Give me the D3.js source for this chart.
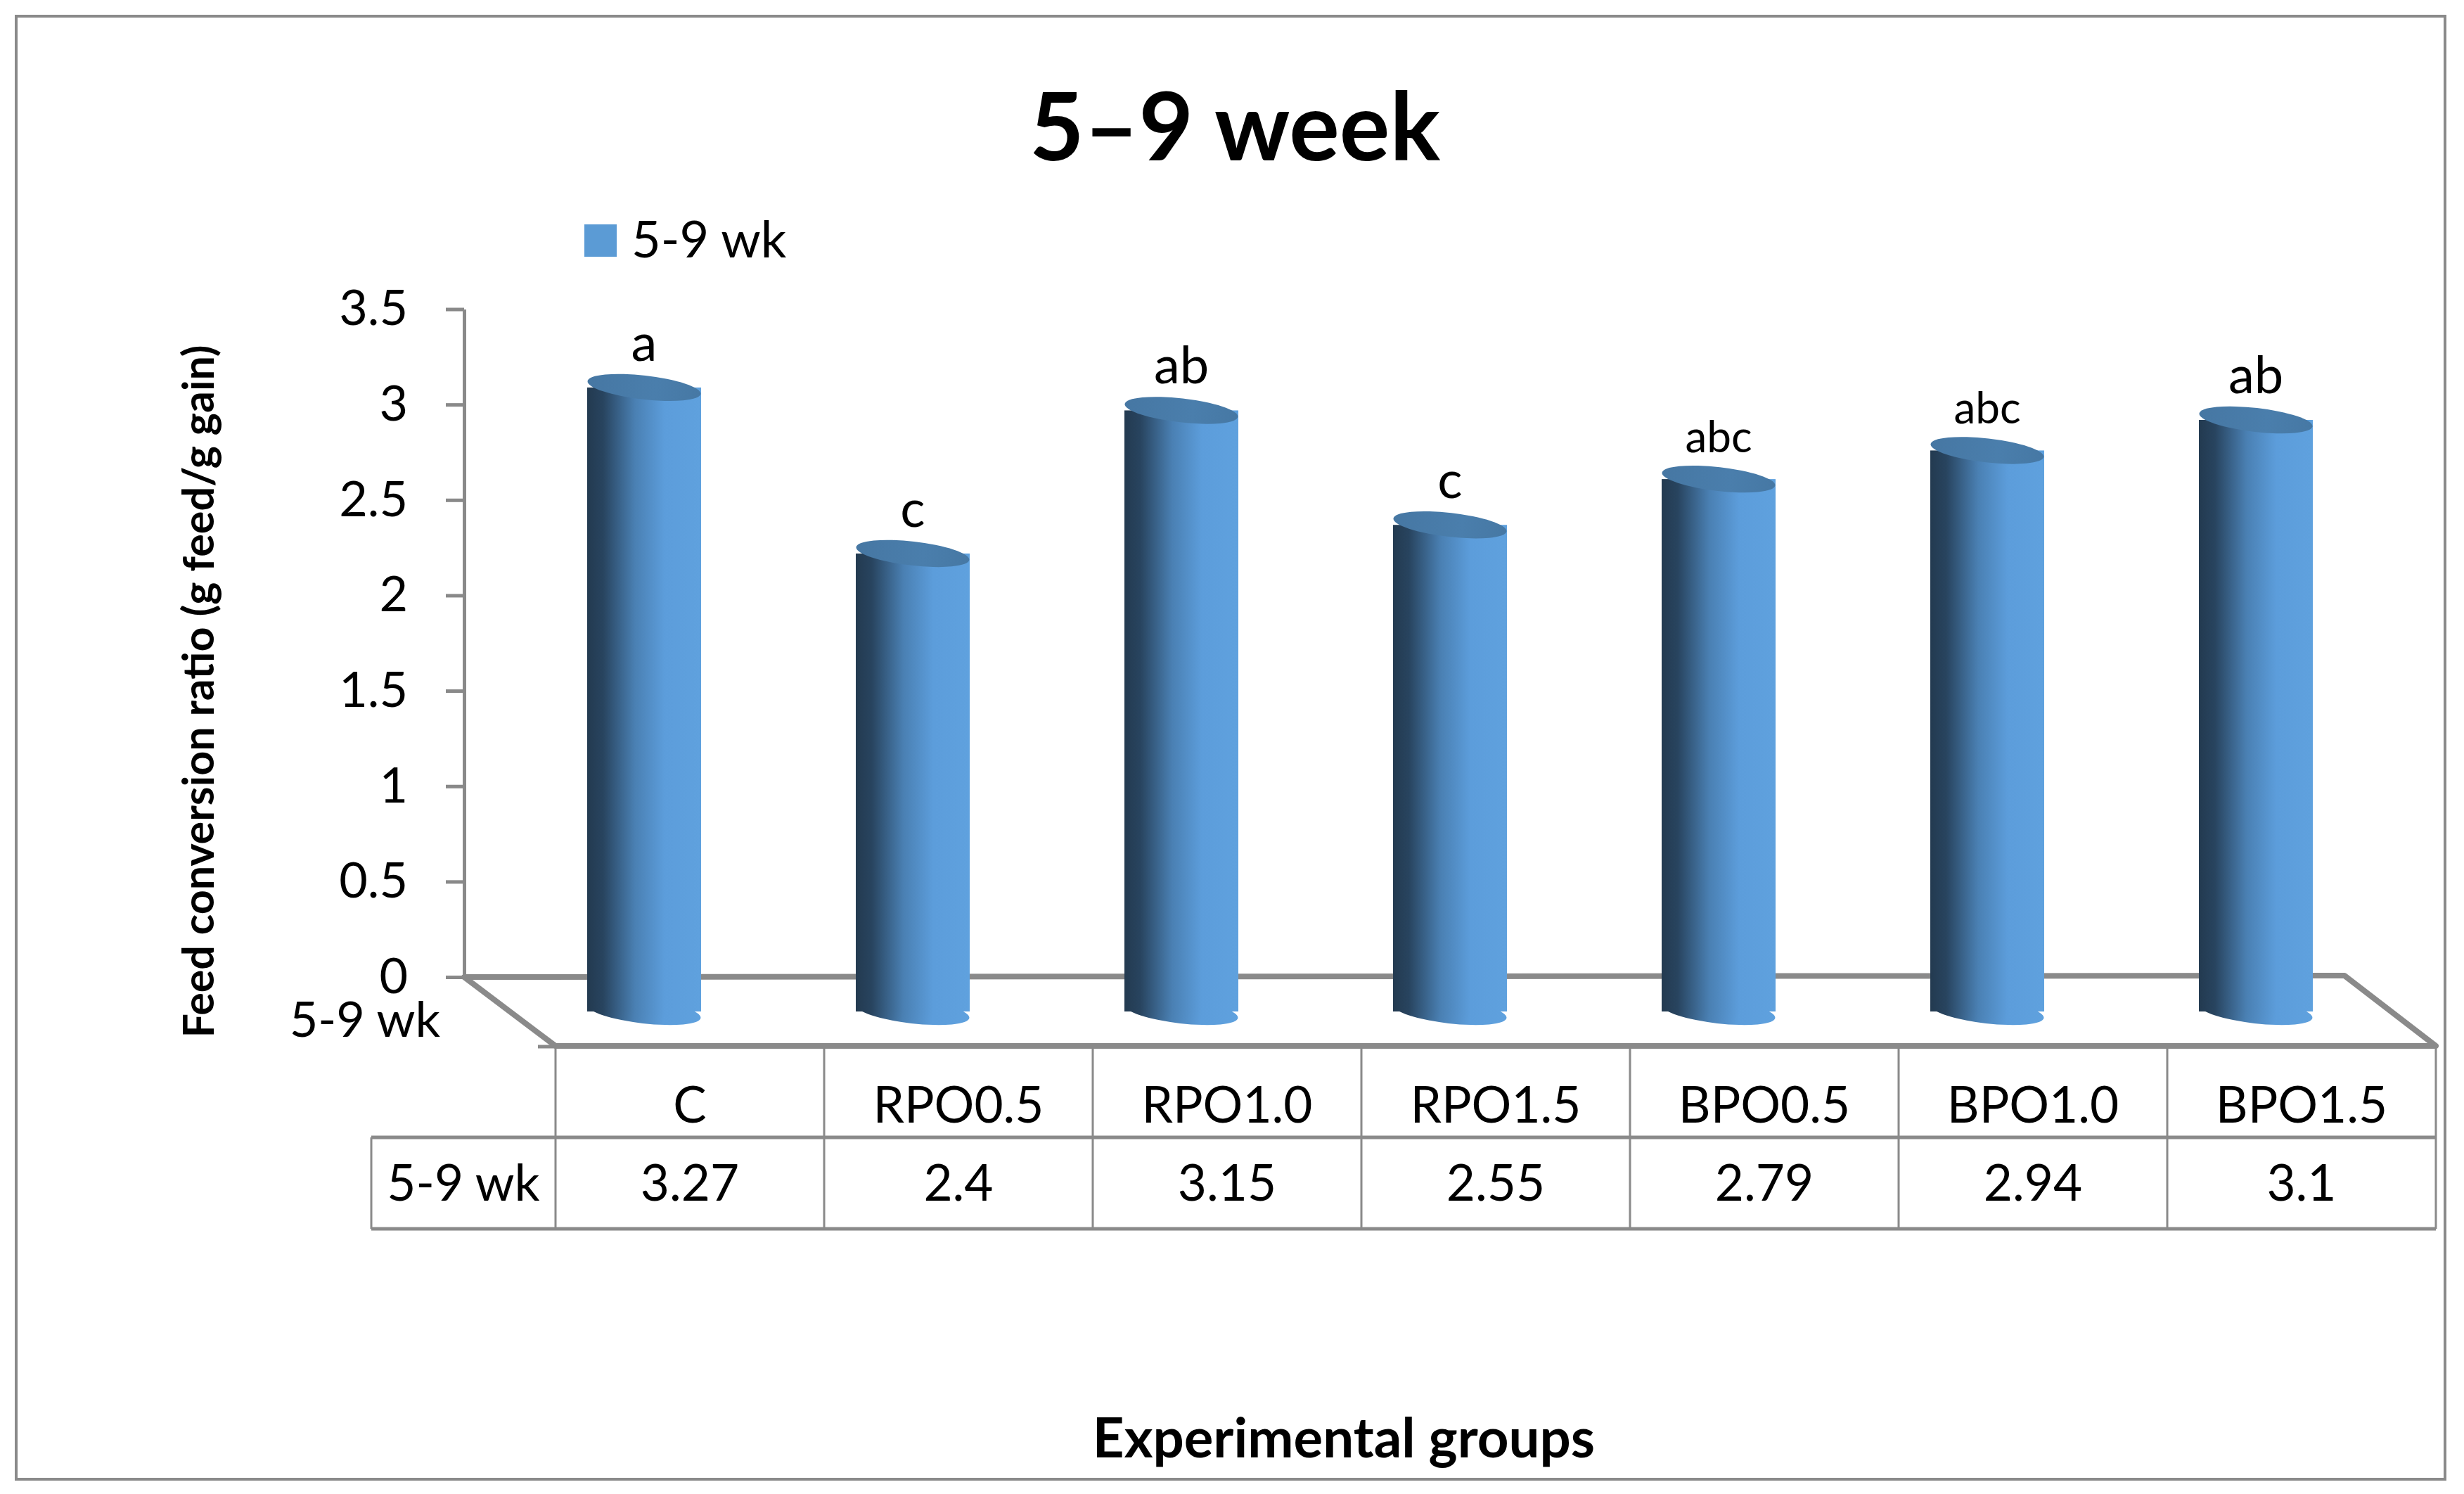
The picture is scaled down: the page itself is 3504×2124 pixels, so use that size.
<!DOCTYPE html>
<html>
<head>
<meta charset="utf-8">
<script src="https://cdn.jsdelivr.net/npm/d3@7"></script>
<style>
  body { margin: 0; background: #fff; }
  text { font-family: Lato, "Open Sans", sans-serif; fill: #000; }
</style>
</head>
<body>
<script>
// 5-9 week feed conversion ratio, 3D cylinder chart with data table

const categories = ["C", "RPO0.5", "RPO1.0", "RPO1.5", "BPO0.5", "BPO1.0", "BPO1.5"];
const values = [3.27, 2.4, 3.15, 2.55, 2.79, 2.94, 3.1];
const letters = ["a", "c", "ab", "c", "abc", "abc", "ab"];
const yTicks = [0, 0.5, 1, 1.5, 2, 2.5, 3, 3.5];
const yTickLabels = ["0", "0.5", "1", "1.5", "2", "2.5", "3", "3.5"];
const seriesName = "5-9 wk";

const width = 3504, height = 2124;
const floorBack = 1389, floorFront = 1487;   // y of floor back edge / front edge
const depthX = 130;                          // x shift from back to front
const tableLeft = 790, tableRight = 3464;
const rowSplit = 1617, rowBottom = 1747, labelCellLeft = 528;

const svg = d3.select("body").append("svg")
    .attr("width", width)
    .attr("height", height);

// outer frame
svg.append("rect")
    .attr("x", 23).attr("y", 23)
    .attr("width", 3454).attr("height", 2080)
    .attr("fill", "#fff")
    .attr("stroke", "#8a8a8a")
    .attr("stroke-width", 4);

// gradients for the cylinders
const defs = svg.append("defs");
const body = defs.append("linearGradient").attr("id", "cylBody")
    .attr("x1", "0%").attr("x2", "100%").attr("y1", "0%").attr("y2", "0%");
[["0%", "#233a50"], ["14%", "#28445f"], ["42%", "#4a80b3"], ["68%", "#5c9ddb"], ["100%", "#5fa1de"]]
  .forEach(s => body.append("stop").attr("offset", s[0]).attr("stop-color", s[1]));
const cap = defs.append("linearGradient").attr("id", "cylTop")
    .attr("x1", "0%").attr("x2", "100%").attr("y1", "0%").attr("y2", "0%");
[["0%", "#4677a3"], ["60%", "#4a7eac"], ["100%", "#4678a4"]]
  .forEach(s => cap.append("stop").attr("offset", s[0]).attr("stop-color", s[1]));

// scales
const y = d3.scaleLinear().domain([0, 3.5]).range([floorBack, 439.5]);
const xFront = d3.scaleBand().domain(categories).range([tableLeft, tableRight]);
const midShiftX = depthX / 2, midShiftY = (floorFront - floorBack) / 2;

// title
svg.append("text")
    .attr("x", 1756).attr("y", 228)
    .attr("text-anchor", "middle")
    .style("font-size", "134px").style("font-weight", "bold")
    .text("5\u20139 week");

// legend
svg.append("rect")
    .attr("x", 831).attr("y", 319).attr("width", 46).attr("height", 46)
    .attr("fill", "#5b9bd5");
svg.append("text")
    .attr("x", 898).attr("y", 366)
    .style("font-size", "72px")
    .text(seriesName);

// y axis on the back wall
const yAxis = d3.axisLeft(y)
    .tickValues(yTicks)
    .tickFormat((d, i) => yTickLabels[i])
    .tickSizeInner(26)
    .tickSizeOuter(0)
    .tickPadding(54);
const gy = svg.append("g")
    .attr("transform", "translate(" + (tableLeft - depthX) + ",0)")
    .call(yAxis);
gy.select(".domain").attr("stroke", "#898989").attr("stroke-width", 5);
gy.selectAll(".tick line").attr("stroke", "#898989").attr("stroke-width", 5);
gy.selectAll(".tick text")
    .style("font-size", "70px")
    .style("font-family", "Lato, sans-serif")
    .attr("fill", "#000");

// series label on the depth axis
svg.append("text")
    .attr("x", 626).attr("y", 1474)
    .attr("text-anchor", "end")
    .style("font-size", "70px")
    .text(seriesName);

// floor
const backLeft = tableLeft - depthX, backRight = tableRight - depthX;
svg.append("path")
    .attr("d", d3.line()([[backLeft, floorBack], [backRight, floorBack - 2],
                          [tableRight, floorFront], [tableLeft, floorFront]]) + "Z")
    .attr("fill", "#fff")
    .attr("stroke", "#8a8a8a")
    .attr("stroke-width", 8)
    .attr("stroke-linejoin", "round");
svg.append("line")
    .attr("x1", tableLeft - 25).attr("x2", tableLeft)
    .attr("y1", floorFront + 1).attr("y2", floorFront + 1)
    .attr("stroke", "#8a8a8a").attr("stroke-width", 5);

// cylinders
const rx = xFront.bandwidth() * 0.212, ry = 17, tilt = 6.5;
const baseY = floorBack + midShiftY;
const bars = svg.append("g").selectAll("g.bar")
    .data(categories.map((c, i) => ({cat: c, v: values[i], lab: letters[i]})))
    .join("g")
    .attr("class", "bar")
    .attr("transform", d => "translate(" + (xFront(d.cat) + xFront.bandwidth() / 2 - midShiftX) + ",0)");

bars.append("ellipse")
    .attr("cx", 0).attr("cy", 0).attr("rx", rx).attr("ry", ry)
    .attr("transform", "translate(0," + baseY + ") rotate(" + tilt + ")")
    .attr("fill", "url(#cylBody)");
bars.append("rect")
    .attr("x", -rx).attr("width", rx * 2)
    .attr("y", d => y(d.v) + midShiftY)
    .attr("height", d => baseY - (y(d.v) + midShiftY))
    .attr("fill", "url(#cylBody)");
bars.append("ellipse")
    .attr("cx", 0).attr("cy", 0).attr("rx", rx).attr("ry", ry)
    .attr("transform", d => "translate(0," + (y(d.v) + midShiftY) + ") rotate(" + tilt + ")")
    .attr("fill", "url(#cylTop)");
bars.append("text")
    .attr("x", 0)
    .attr("y", d => y(d.v) + midShiftY - 38)
    .attr("text-anchor", "middle")
    .style("font-size", d => d.lab.length > 2 ? "62px" : "74px")
    .text(d => d.lab);

// data table
const grid = svg.append("g").attr("stroke", "#8a8a8a");
[rowSplit, rowBottom].forEach(yy => grid.append("line")
    .attr("x1", labelCellLeft).attr("x2", tableRight)
    .attr("y1", yy).attr("y2", yy)
    .attr("stroke-width", 5));
d3.range(categories.length + 1).forEach(i => grid.append("line")
    .attr("x1", tableLeft + i * xFront.step()).attr("x2", tableLeft + i * xFront.step())
    .attr("y1", floorFront).attr("y2", rowBottom)
    .attr("stroke-width", 3));
grid.append("line")
    .attr("x1", labelCellLeft).attr("x2", labelCellLeft)
    .attr("y1", rowSplit).attr("y2", rowBottom)
    .attr("stroke-width", 3);

svg.append("g").selectAll("text.cat")
    .data(categories)
    .join("text")
    .attr("class", "cat")
    .attr("x", d => xFront(d) + xFront.bandwidth() / 2)
    .attr("y", 1596)
    .attr("text-anchor", "middle")
    .style("font-size", "71px")
    .text(d => d);
svg.append("g").selectAll("text.val")
    .data(categories.map((c, i) => ({cat: c, v: values[i]})))
    .join("text")
    .attr("class", "val")
    .attr("x", d => xFront(d.cat) + xFront.bandwidth() / 2)
    .attr("y", 1707)
    .attr("text-anchor", "middle")
    .style("font-size", "71px")
    .text(d => d.v);
svg.append("text")
    .attr("x", (labelCellLeft + tableLeft) / 2)
    .attr("y", 1707)
    .attr("text-anchor", "middle")
    .style("font-size", "71px")
    .text(seriesName);

// axis titles
svg.append("text")
    .attr("transform", "translate(304,983) rotate(-90)")
    .attr("text-anchor", "middle")
    .style("font-size", "61px").style("font-weight", "bold")
    .text("Feed conversion ratio (g feed/g gain)");
svg.append("text")
    .attr("x", 1911).attr("y", 2072)
    .attr("text-anchor", "middle")
    .style("font-size", "78px").style("font-weight", "bold")
    .text("Experimental groups");
</script>
</body>
</html>
